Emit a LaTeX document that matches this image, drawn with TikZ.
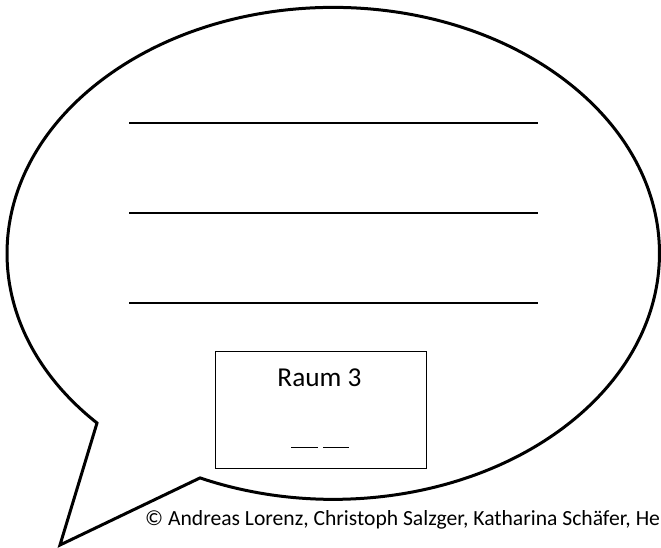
\documentclass[tikz,border=0pt]{standalone}
\usepackage{fontspec}
\setmainfont{Carlito}
\begin{document}
\begin{tikzpicture}[x=1pt,y=-1pt,
  bubble/.style={draw=black,line width=3pt,line join=miter,fill=white},
  writeline/.style={draw=black,line width=1.6pt},
  roombox/.style={draw=black,line width=1pt},
  roomtext/.style={font=\fontsize{27.3}{32}\selectfont,inner sep=0pt,anchor=base},
  credit/.style={font=\fontsize{21.6}{26}\selectfont,inner sep=0pt,anchor=base west}]
\useasboundingbox (0,0) rectangle (661,547);
\coordinate (tip) at (60,545);
\coordinate (p1) at (97,423);
\draw[bubble] (tip) -- (p1) arc[start angle=136.4, end angle=474.1, x radius=326.25, y radius=246] -- cycle;
\coordinate (l1a) at (129,123); \coordinate (l1b) at (538,123);
\coordinate (l2a) at (129,213); \coordinate (l2b) at (538,213);
\coordinate (l3a) at (129,303); \coordinate (l3b) at (538,303);
\draw[writeline] (l1a) -- (l1b);
\draw[writeline] (l2a) -- (l2b);
\draw[writeline] (l3a) -- (l3b);
\node[roombox,minimum width=211pt,minimum height=117pt,inner sep=0pt] (box) at (320.5,409.5) {};
\node[roomtext] (raum) at (319.5,386.5) {Raum 3};
\coordinate (u1a) at (291,447.3); \coordinate (u1b) at (318,447.3);
\coordinate (u2a) at (323,447.3); \coordinate (u2b) at (349,447.3);
\draw[line width=1.3pt] (u1a) -- (u1b);
\draw[line width=1.3pt] (u2a) -- (u2b);
\node[credit] (copy) at (145,525) {© Andreas Lorenz, Christoph Salzger, Katharina Schäfer, He};
\end{tikzpicture}
\end{document}
